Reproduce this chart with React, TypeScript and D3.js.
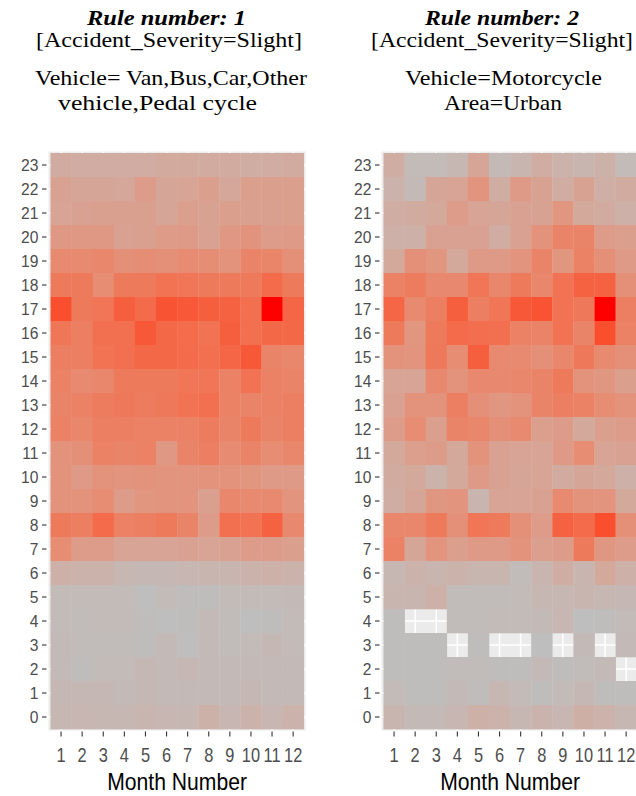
import React from "react";
import * as d3 from "d3";

const months = [1, 2, 3, 4, 5, 6, 7, 8, 9, 10, 11, 12];
const hours = [23, 22, 21, 20, 19, 18, 17, 16, 15, 14, 13, 12, 11, 10, 9, 8, 7, 6, 5, 4, 3, 2, 1, 0];

// Rule 1 intensity per hour (rows listed from hour 23 down to hour 0), months 1..12
const rule1Values: number[][] = [
  [18, 17, 17, 17, 17, 19, 19, 18, 18, 16, 17, 18],
  [25, 22, 22, 21, 30, 22, 24, 28, 21, 28, 28, 28],
  [24, 26, 27, 27, 27, 22, 28, 25, 28, 27, 27, 28],
  [33, 33, 33, 26, 27, 31, 32, 25, 33, 37, 30, 32],
  [44, 44, 46, 40, 41, 40, 43, 41, 38, 48, 47, 40],
  [55, 55, 42, 55, 55, 60, 58, 55, 55, 55, 65, 55],
  [80, 55, 58, 72, 65, 78, 75, 72, 70, 62, 100, 68],
  [57, 52, 62, 62, 75, 66, 64, 60, 72, 62, 66, 66],
  [52, 52, 60, 62, 66, 66, 65, 62, 68, 75, 48, 46],
  [50, 44, 46, 55, 55, 55, 58, 58, 50, 60, 50, 48],
  [48, 50, 54, 56, 54, 56, 60, 62, 50, 48, 50, 52],
  [50, 46, 52, 52, 50, 50, 50, 54, 48, 55, 48, 52],
  [38, 40, 50, 48, 50, 33, 48, 52, 43, 48, 42, 46],
  [38, 32, 38, 36, 38, 36, 36, 38, 38, 35, 32, 32],
  [38, 38, 42, 30, 35, 36, 36, 27, 46, 44, 44, 36],
  [55, 52, 65, 50, 52, 55, 48, 30, 62, 60, 70, 45],
  [42, 30, 30, 24, 24, 24, 26, 24, 26, 30, 30, 28],
  [14, 12, 12, 8, 7, 7, 9, 10, 10, 12, 14, 12],
  [5, 5, 5, 5, 2, 5, 3, 3, 5, 5, 5, 6],
  [5, 4, 5, 5, 3, 2, 3, 6, 4, 2, 3, 5],
  [6, 4, 4, 4, 3, 6, 2, 6, 4, 5, 7, 5],
  [6, 3, 5, 5, 7, 6, 7, 6, 6, 6, 6, 6],
  [7, 7, 7, 6, 7, 6, 6, 6, 6, 7, 6, 6],
  [8, 9, 8, 8, 10, 9, 8, 13, 9, 12, 9, 12],
];

// Rule 2 intensity (null = no observation)
const rule2Values: (number | null)[][] = [
  [16, 5, 5, 8, 22, 6, 10, 17, 12, 10, 13, 5],
  [12, 6, 22, 24, 36, 16, 32, 25, 17, 25, 15, 18],
  [16, 18, 20, 30, 24, 22, 26, 25, 35, 20, 18, 14],
  [14, 14, 26, 26, 26, 17, 26, 38, 48, 48, 30, 28],
  [20, 40, 35, 20, 32, 32, 36, 48, 35, 50, 40, 32],
  [50, 54, 45, 45, 58, 46, 55, 46, 60, 70, 70, 40],
  [68, 44, 52, 72, 52, 58, 75, 78, 60, 56, 100, 52],
  [55, 35, 55, 65, 63, 62, 50, 48, 60, 48, 80, 50],
  [38, 36, 56, 42, 72, 44, 44, 40, 46, 56, 44, 40],
  [24, 24, 45, 38, 45, 45, 46, 48, 55, 38, 34, 28],
  [26, 38, 38, 52, 40, 34, 38, 48, 52, 50, 42, 38],
  [30, 42, 28, 48, 46, 40, 44, 28, 30, 20, 28, 30],
  [20, 28, 30, 20, 38, 26, 24, 24, 32, 42, 24, 26],
  [18, 20, 12, 20, 32, 26, 22, 24, 18, 22, 20, 14],
  [16, 22, 34, 36, 10, 24, 24, 26, 44, 38, 36, 20],
  [46, 46, 55, 40, 58, 55, 40, 30, 70, 65, 80, 40],
  [50, 22, 36, 28, 32, 32, 38, 28, 30, 55, 34, 30],
  [8, 12, 10, 12, 10, 10, 4, 10, 16, 10, 20, 14],
  [10, 10, 14, 4, 4, 4, 5, 8, 8, 10, 8, 7],
  [3, null, null, 4, 4, 5, 5, 6, 9, 2, 3, 5],
  [3, 3, 3, null, 3, null, null, 2, null, 6, null, 6],
  [3, 3, 3, 4, 4, 3, 3, 6, 3, 4, 6, null],
  [5, 3, 3, 6, 3, 8, 5, 3, 5, 7, 3, 3],
  [10, 6, 6, 9, 14, 12, 8, 11, 9, 15, 12, 8],
];

const rule1Title = ["Rule number: 1", "[Accident_Severity=Slight]", "Vehicle= Van,Bus,Car,Other", "vehicle,Pedal cycle"];
const rule2Title = ["Rule number: 2", "[Accident_Severity=Slight]", "Vehicle=Motorcycle", "Area=Urban"];

type Line = { x: number; w: number; y: number; size: number };
const title1Layout: Line[] = [
  { x: 87, w: 159, y: 24.5, size: 20 },
  { x: 36, w: 266, y: 47, size: 20 },
  { x: 35, w: 272, y: 85, size: 22 },
  { x: 58, w: 199, y: 110, size: 22 },
];
const title2Layout: Line[] = [
  { x: 425, w: 154, y: 24.5, size: 20 },
  { x: 371, w: 262, y: 47, size: 20 },
  { x: 405, w: 197, y: 85, size: 22 },
  { x: 444, w: 118, y: 110, size: 22 },
];

const TOP = 153;
const CELL_W = 21.1;
const CELL_H = 24;

function Panel({ x0, values, title, layout }: { x0: number; values: (number | null)[][]; title: string[]; layout: Line[] }) {
  const x = d3.scaleBand<number>().domain(months).range([x0, x0 + CELL_W * months.length]).padding(0);
  const y = d3.scaleBand<number>().domain(hours).range([TOP, TOP + CELL_H * hours.length]).padding(0);
  const flat = values.flat().filter((v): v is number => v !== null);
  const color = d3
    .scaleLinear<string>()
    .domain([d3.min(flat)!, d3.max(flat)!])
    .range(["#BEBEBE", "#FF0000"])
    .interpolate(d3.interpolateLab);
  const [xr0, xr1] = x.range();
  const [yr0, yr1] = y.range();
  const bw = x.bandwidth();
  const bh = y.bandwidth();
  const sans = "'Liberation Sans', Arial, sans-serif";
  const serif = "'Liberation Serif', 'Times New Roman', serif";
  return (
    <g>
      {title.map((t, i) => (
        <text
          key={i}
          x={layout[i].x}
          y={layout[i].y}
          textLength={layout[i].w}
          lengthAdjust="spacingAndGlyphs"
          fontFamily={serif}
          fontSize={layout[i].size}
          fontWeight={i === 0 ? "bold" : "normal"}
          fontStyle={i === 0 ? "italic" : "normal"}
          fill="#000"
        >
          {t}
        </text>
      ))}
      <rect x={xr0 - 2} y={yr0 - 1.5} width={xr1 - xr0 + 4} height={yr1 - yr0 + 3} fill="#EBEBEB" />
      {months.map((m) => (
        <line key={"gx" + m} x1={x(m)! + bw / 2} x2={x(m)! + bw / 2} y1={yr0 - 1.5} y2={yr1 + 1.5} stroke="#fff" strokeWidth={1.5} />
      ))}
      {hours.map((h) => (
        <line key={"gy" + h} x1={xr0 - 2} x2={xr1 + 2} y1={y(h)! + bh / 2} y2={y(h)! + bh / 2} stroke="#fff" strokeWidth={1.5} />
      ))}
      {hours.map((h, i) =>
        months.map((m, j) => {
          const v = values[i][j];
          if (v === null) return null;
          return <rect key={h + "-" + m} x={x(m)!} y={y(h)!} width={bw + 0.3} height={bh + 0.3} fill={color(v)} />;
        })
      )}
      {hours.map((h) => {
        const cy = y(h)! + bh / 2;
        return (
          <g key={"yt" + h}>
            <line x1={xr0 - 8.5} x2={xr0 - 4} y1={cy} y2={cy} stroke="#333" strokeWidth={1.1} />
            <text
              transform={`translate(${xr0 - 12},${cy + 6}) scale(0.92,1)`}
              textAnchor="end"
              fontFamily={sans}
              fontSize={17}
              fill="#4D4D4D"
            >
              {h}
            </text>
          </g>
        );
      })}
      {months.map((m) => {
        const cx = x(m)! + bw / 2;
        return (
          <g key={"xt" + m}>
            <line x1={cx} x2={cx} y1={yr1 + 2.5} y2={yr1 + 7.5} stroke="#333" strokeWidth={1.1} />
            <text
              transform={`translate(${cx},761.5) scale(0.82,1)`}
              textAnchor="middle"
              fontFamily={sans}
              fontSize={20}
              fill="#4D4D4D"
            >
              {m}
            </text>
          </g>
        );
      })}
      <text
        transform={`translate(${(xr0 + xr1) / 2},790) scale(0.92,1)`}
        textAnchor="middle"
        fontFamily={sans}
        fontSize={23}
        fill="#000"
      >
        Month Number
      </text>
    </g>
  );
}

export default function App() {
  return (
    <svg width={636} height={796} style={{ position: "absolute", left: 0, top: 0, background: "#fff" }}>
      <rect width={636} height={796} fill="#fff" />
      <Panel x0={50.5} values={rule1Values} title={rule1Title} layout={title1Layout} />
      <Panel x0={383.5} values={rule2Values} title={rule2Title} layout={title2Layout} />
    </svg>
  );
}
